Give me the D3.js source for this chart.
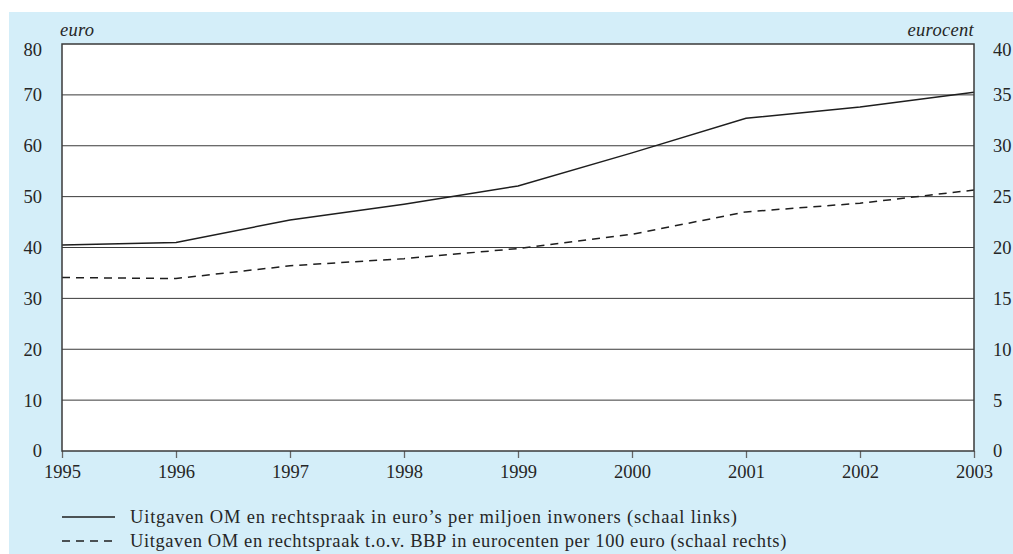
<!DOCTYPE html>
<html>
<head>
<meta charset="utf-8">
<script src="https://cdn.jsdelivr.net/npm/d3@7"></script>
<style>
  html, body { margin: 0; padding: 0; background: #ffffff; }
  svg { display: block; }
  text { font-family: "Liberation Serif", "Times New Roman", serif; fill: #262626; }
</style>
</head>
<body>
<svg id="chart" width="1013" height="554"></svg>
<script>
// Jaren op de x-as
const years = [1995, 1996, 1997, 1998, 1999, 2000, 2001, 2002, 2003];
// Uitgaven in euro's per miljoen inwoners (linker schaal)
const perInwoner = [40.5, 41.0, 45.4, 48.5, 52.1, 58.6, 65.4, 67.6, 70.5];
// Uitgaven t.o.v. BBP in eurocenten per 100 euro (rechter schaal)
const perBBP = [17.05, 16.95, 18.2, 18.9, 19.9, 21.3, 23.5, 24.35, 25.65];
// Asmarkeringen
const leftTicks = [0, 10, 20, 30, 40, 50, 60, 70, 80];
const rightTicks = [0, 5, 10, 15, 20, 25, 30, 35, 40];
const legendLabels = [
  "Uitgaven OM en rechtspraak in euro\u2019s per miljoen inwoners (schaal links)",
  "Uitgaven OM en rechtspraak t.o.v. BBP in eurocenten per 100 euro (schaal rechts)"
];

const FONT = "Liberation Serif, Times New Roman, serif";
const svg = d3.select("#chart");
const plot = { left: 62, right: 974, top: 44, bottom: 451 };

// lichtblauwe achtergrond
svg.append("rect")
  .attr("x", 9).attr("y", 12)
  .attr("width", 1013 - 9).attr("height", 554 - 12)
  .attr("fill", "#d4eef9");

// wit plotvlak
svg.append("rect")
  .attr("x", plot.left).attr("y", plot.top)
  .attr("width", plot.right - plot.left).attr("height", plot.bottom - plot.top)
  .attr("fill", "#ffffff");

const x = d3.scaleLinear().domain([1995, 2003]).range([plot.left, plot.right]);
const yL = d3.scaleLinear().domain([0, 80]).range([plot.bottom, plot.top]);
const yR = d3.scaleLinear().domain([0, 40]).range([plot.bottom, plot.top]);

// horizontale rasterlijnen
svg.append("g")
  .selectAll("line")
  .data(leftTicks.filter(t => t > 0 && t < 80))
  .join("line")
  .attr("x1", plot.left).attr("x2", plot.right)
  .attr("y1", d => yL(d)).attr("y2", d => yL(d))
  .attr("stroke", "#3a3a3a").attr("stroke-width", 1);

// x-as
const xAxis = svg.append("g")
  .attr("transform", `translate(0,${plot.bottom})`)
  .call(d3.axisBottom(x).tickValues(years).tickFormat(d3.format("d")).tickSize(7).tickPadding(7));
xAxis.select(".domain").remove();
xAxis.selectAll(".tick line").attr("stroke", "#666").attr("stroke-width", 1.3);
xAxis.selectAll(".tick text").attr("font-size", 18.5).attr("fill", "#262626")
  .attr("font-family", FONT);

// linker as
const leftAxis = svg.append("g")
  .attr("transform", `translate(${plot.left - 20},0)`)
  .call(d3.axisLeft(yL).tickValues(leftTicks).tickSize(0).tickPadding(0));
leftAxis.select(".domain").remove();
leftAxis.selectAll(".tick text").attr("font-size", 18.5).attr("fill", "#262626")
  .attr("font-family", FONT)
  .attr("dy", d => d === 80 ? "0.6em" : "0.32em");

// rechter as
const rightAxis = svg.append("g")
  .attr("transform", `translate(${plot.right + 19},0)`)
  .call(d3.axisRight(yR).tickValues(rightTicks).tickSize(0).tickPadding(0));
rightAxis.select(".domain").remove();
rightAxis.selectAll(".tick text").attr("font-size", 18.5).attr("fill", "#262626")
  .attr("font-family", FONT)
  .attr("dy", d => d === 40 ? "0.6em" : "0.32em");

// eenheden
svg.append("text").attr("x", plot.left - 2).attr("y", 36)
  .attr("font-size", 18.5).attr("font-style", "italic")
  .attr("letter-spacing", 0.3).text("euro");
svg.append("text").attr("x", plot.right).attr("y", 36)
  .attr("text-anchor", "end")
  .attr("font-size", 18.5).attr("font-style", "italic")
  .attr("letter-spacing", 0.3).text("eurocent");

// lijnen
const lineL = d3.line().x((d, i) => x(years[i])).y(d => yL(d));
const lineR = d3.line().x((d, i) => x(years[i])).y(d => yR(d));

svg.append("path").datum(perInwoner)
  .attr("d", lineL).attr("fill", "none")
  .attr("stroke", "#1e1e1e").attr("stroke-width", 1.5);

svg.append("path").datum(perBBP)
  .attr("d", lineR).attr("fill", "none")
  .attr("stroke", "#1e1e1e").attr("stroke-width", 1.5)
  .attr("stroke-dasharray", "8,6");

// kader van het plotvlak
svg.append("rect")
  .attr("x", plot.left).attr("y", plot.top)
  .attr("width", plot.right - plot.left).attr("height", plot.bottom - plot.top)
  .attr("fill", "none").attr("stroke", "#3a3a3a").attr("stroke-width", 1.5);

// legenda
const legend = svg.append("g");
const rows = legend.selectAll("g")
  .data(legendLabels)
  .join("g")
  .attr("transform", (d, i) => `translate(62,${517 + i * 24})`);
rows.append("line")
  .attr("x1", 0).attr("x2", 53).attr("y1", 0).attr("y2", 0)
  .attr("stroke", "#1e1e1e").attr("stroke-width", 1.5)
  .attr("stroke-dasharray", (d, i) => i === 0 ? null : "8,6");
rows.append("text")
  .attr("x", 68).attr("y", 0).attr("dy", "0.32em")
  .attr("font-size", 18.5)
  .attr("letter-spacing", (d, i) => i === 0 ? 0.82 : 0.6)
  .text(d => d);
</script>
</body>
</html>
